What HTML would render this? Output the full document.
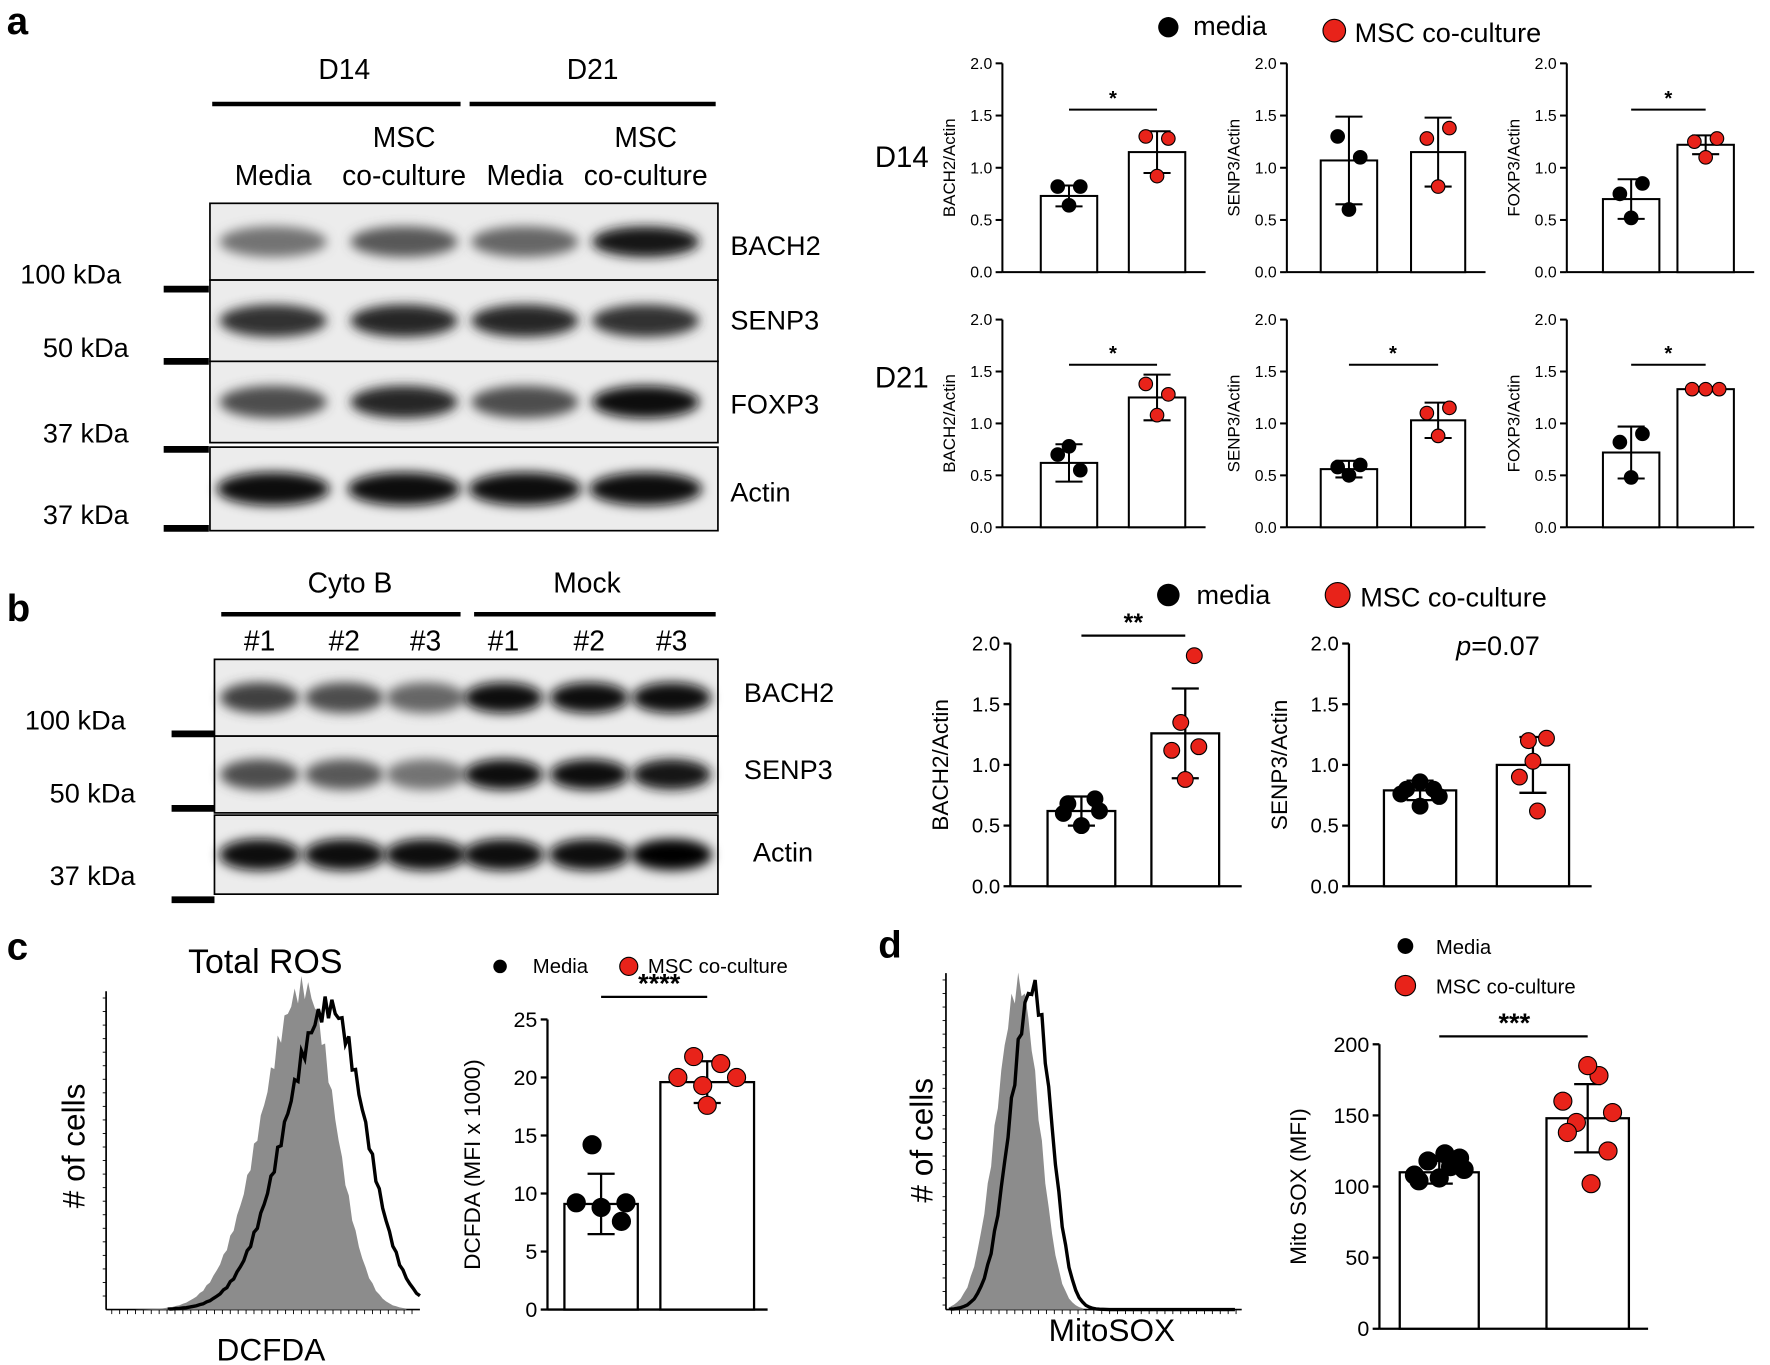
<!DOCTYPE html>
<html><head><meta charset="utf-8"><style>
html,body{margin:0;padding:0;background:#fff;}
svg{display:block;font-family:"Liberation Sans",Arial,sans-serif;}
</style></head><body>
<svg id="s" width="1770" height="1365" viewBox="0 0 1568 1209" xmlns="http://www.w3.org/2000/svg">
<defs>
<filter id="bl" x="-20%" y="-50%" width="140%" height="200%"><feGaussianBlur stdDeviation="5"/></filter>
</defs>
<g font-weight="bold" font-size="34">
<text x="6" y="30">a</text><text x="6" y="550">b</text><text x="6" y="850">c</text><text x="778" y="848">d</text>
</g>
<g font-size="25" text-anchor="middle">
<text x="305" y="70">D14</text><text x="525" y="70">D21</text>
<text x="242" y="164">Media</text><text x="358" y="130">MSC</text><text x="358" y="164">co-culture</text>
<text x="465" y="164">Media</text><text x="572" y="130">MSC</text><text x="572" y="164">co-culture</text>
<text x="310" y="525">Cyto B</text><text x="520" y="525">Mock</text>
<text x="230" y="576">#1</text><text x="305" y="576">#2</text><text x="377" y="576">#3</text>
<text x="446" y="576">#1</text><text x="522" y="576">#2</text><text x="595" y="576">#3</text>
</g>
<g stroke="#000" stroke-width="4">
<line x1="188" y1="92" x2="408" y2="92"/><line x1="416" y1="92" x2="634" y2="92"/>
<line x1="196" y1="544" x2="408" y2="544"/><line x1="420" y1="544" x2="634" y2="544"/>
</g>
<g id="blots"></g>
<g font-size="24">
<text x="647" y="226">BACH2</text><text x="647" y="292">SENP3</text><text x="647" y="366">FOXP3</text><text x="647" y="444">Actin</text>
<text x="659" y="622">BACH2</text><text x="659" y="690">SENP3</text><text x="667" y="763">Actin</text>
<text x="18" y="251">100 kDa</text><text x="38" y="316">50 kDa</text><text x="38" y="392">37 kDa</text><text x="38" y="464">37 kDa</text>
<text x="22" y="646">100 kDa</text><text x="44" y="711">50 kDa</text><text x="44" y="784">37 kDa</text>
</g>
<g stroke="#000" stroke-width="6">
<line x1="145" y1="256" x2="185" y2="256"/><line x1="145" y1="320" x2="185" y2="320"/><line x1="145" y1="398" x2="185" y2="398"/><line x1="145" y1="468" x2="185" y2="468"/>
<line x1="152" y1="650" x2="190" y2="650"/><line x1="152" y1="716" x2="190" y2="716"/><line x1="152" y1="797" x2="190" y2="797"/>
</g>
<g font-size="24">
<circle cx="1035" cy="24" r="9"/><text x="1057" y="31">media</text>
<circle cx="1182" cy="27" r="10" fill="#e8231a" stroke="#000"/><text x="1200" y="37">MSC co-culture</text>
<text x="775" y="148" font-size="26">D14</text><text x="775" y="343" font-size="26">D21</text>
<circle cx="1035" cy="527" r="10"/><text x="1060" y="535">media</text>
<circle cx="1185" cy="527" r="11" fill="#e8231a" stroke="#000"/><text x="1205" y="537">MSC co-culture</text>
<text x="1290" y="580"><tspan font-style="italic">p</tspan>=0.07</text>
</g>
<g font-size="18">
<circle cx="443" cy="856" r="6"/><text x="472" y="862">Media</text>
<circle cx="557" cy="856" r="8" fill="#e8231a" stroke="#000"/><text x="574" y="862">MSC co-culture</text>
<circle cx="1245" cy="838" r="7"/><text x="1272" y="845">Media</text>
<circle cx="1245" cy="873" r="9" fill="#e8231a" stroke="#000"/><text x="1272" y="880">MSC co-culture</text>
</g>
<text x="235" y="862" font-size="30" text-anchor="middle">Total ROS</text>
<text x="240" y="1205" font-size="28" text-anchor="middle">DCFDA</text>
<text x="985" y="1188" font-size="28" text-anchor="middle">MitoSOX</text>
<text transform="translate(75,1015) rotate(-90)" font-size="28" text-anchor="middle"># of cells</text>
<text transform="translate(826,1010) rotate(-90)" font-size="28" text-anchor="middle"># of cells</text>
<g id="charts"></g>
</svg>
<script>
var NS="http://www.w3.org/2000/svg";
function el(p,t,a,txt){var e=document.createElementNS(NS,t);for(var k in a)e.setAttribute(k,a[k]);if(txt!==undefined)e.textContent=txt;document.getElementById(p).appendChild(e);return e;}
function blotRow(x1,x2,y1,y2,lanes,ints,w){
 el("blots","rect",{x:x1,y:y1,width:x2-x1,height:y2-y1,fill:"#ececec",stroke:"#000","stroke-width":1.5});
 var cy=(y1+y2)/2;
 for(var i=0;i<lanes.length;i++){var g=Math.round(255*(1-ints[i]));
  el("blots","ellipse",{cx:lanes[i],cy:cy,rx:w/2,ry:(y2-y1)*0.2,fill:"rgb("+g+","+g+","+g+")",filter:"url(#bl)"});}
}
var LA=[242,358,465,572];
blotRow(186,636,180,248,LA,[0.55,0.65,0.6,0.9],95);
blotRow(186,636,248,320,LA,[0.8,0.85,0.85,0.8],95);
blotRow(186,636,320,392,LA,[0.7,0.85,0.7,0.95],95);
blotRow(186,636,396,470,LA,[0.95,0.95,0.95,0.95],100);
var LB=[230,305,377,446,522,595];
blotRow(190,636,584,652,LB,[0.75,0.7,0.6,0.95,0.95,0.95],70);
blotRow(190,636,652,720,LB,[0.7,0.65,0.55,0.95,0.95,0.9],70);
blotRow(190,636,722,792,LB,[0.95,0.95,0.95,0.95,0.95,0.98],72);
function chart(o){
 var sc=(o.y0-o.yt)/o.max;
 var Y=function(v){return o.y0-v*sc;};
 el("charts","line",{x1:o.ax,y1:o.yt,x2:o.ax,y2:o.y0,stroke:"#000","stroke-width":o.sw});
 el("charts","line",{x1:o.ax,y1:o.y0,x2:o.xe,y2:o.y0,stroke:"#000","stroke-width":o.sw});
 for(var i=0;i<o.ticks.length;i++){var v=o.ticks[i];
  el("charts","line",{x1:o.ax-6,y1:Y(v),x2:o.ax,y2:Y(v),stroke:"#000","stroke-width":o.sw});
  el("charts","text",{x:o.ax-9,y:Y(v)+o.fs*0.35,"font-size":o.fs,"text-anchor":"end"},o.lab[i]);}
 el("charts","text",{transform:"translate("+(o.ax-o.ldx)+","+((o.y0+o.yt)/2)+") rotate(-90)","font-size":o.lfs,"text-anchor":"middle"},o.ylabel);
 for(var b=0;b<2;b++){var x=o.bars[b][0],w=o.bars[b][1]-x,v=o.vals[b],sd=o.sd[b];
  el("charts","rect",{x:x,y:Y(v),width:w,height:o.y0-Y(v),fill:"#fff",stroke:"#000","stroke-width":o.sw});
  var cx=x+w/2;
  el("charts","line",{x1:cx,y1:Y(v-sd),x2:cx,y2:Y(v+sd),stroke:"#000","stroke-width":o.sw});
  el("charts","line",{x1:cx-12,y1:Y(v+sd),x2:cx+12,y2:Y(v+sd),stroke:"#000","stroke-width":o.sw});
  el("charts","line",{x1:cx-12,y1:Y(v-sd),x2:cx+12,y2:Y(v-sd),stroke:"#000","stroke-width":o.sw});
  var pts=o.pts[b];
  for(var k=0;k<pts.length;k++){
   el("charts","circle",{cx:cx+pts[k][0],cy:Y(pts[k][1]),r:o.r,fill:b?"#e8231a":"#000",stroke:"#000","stroke-width":1});}
 }
 if(o.star){var sy=o.sy;
  el("charts","line",{x1:o.bars[0][0]+(o.bars[0][1]-o.bars[0][0])/2,y1:sy,x2:o.bars[1][0]+(o.bars[1][1]-o.bars[1][0])/2,y2:sy,stroke:"#000","stroke-width":o.sw});
  var mx=(o.bars[0][0]+o.bars[1][1])/2;
  el("charts","text",{x:mx,y:sy-4,"font-size":o.sfs,"text-anchor":"middle","font-weight":"bold"},o.star);}
}
var t2=[0,0.5,1,1.5,2],l2=["0.0","0.5","1.0","1.5","2.0"];
function small(ax,y0,yt,bars,vals,sd,pts,yl,star){
 chart({ax:ax,y0:y0,yt:yt,xe:bars[1][1]+18,max:2,ticks:t2,lab:l2,fs:14,lfs:15,ldx:42,sw:1.8,ylabel:yl,bars:bars,vals:vals,sd:sd,pts:pts,r:6,star:star,sy:y0-144,sfs:18});
}
small(888,241,56,[[922,972],[1000,1050]],[0.73,1.15],[0.1,0.2],[[[-10,0.82],[10,0.82],[0,0.64]],[[-10,1.3],[10,1.28],[0,0.92]]],"BACH2/Actin","*");
small(1140,241,56,[[1170,1220],[1250,1298]],[1.07,1.15],[0.42,0.33],[[[-10,1.3],[10,1.1],[0,0.6]],[[-10,1.28],[10,1.38],[0,0.82]]],"SENP3/Actin","");
small(1388,241,56,[[1420,1470],[1486,1536]],[0.7,1.22],[0.19,0.09],[[[-10,0.75],[10,0.85],[0,0.52]],[[-10,1.25],[10,1.28],[0,1.1]]],"FOXP3/Actin","*");
small(888,467,283,[[922,972],[1000,1050]],[0.62,1.25],[0.18,0.22],[[[-10,0.7],[10,0.55],[0,0.78]],[[-10,1.38],[10,1.28],[0,1.08]]],"BACH2/Actin","*");
small(1140,467,283,[[1170,1220],[1250,1298]],[0.56,1.03],[0.08,0.17],[[[-10,0.58],[10,0.6],[0,0.5]],[[-10,1.1],[10,1.15],[0,0.88]]],"SENP3/Actin","*");
small(1388,467,283,[[1420,1470],[1486,1536]],[0.72,1.33],[0.25,0.02],[[[-10,0.82],[10,0.9],[0,0.48]],[[-12,1.33],[12,1.33],[0,1.33]]],"FOXP3/Actin","*");
chart({ax:895,y0:785,yt:570,xe:1100,max:2,ticks:t2,lab:l2,fs:18,lfs:20,ldx:55,sw:2,ylabel:"BACH2/Actin",bars:[[928,988],[1020,1080]],vals:[0.62,1.26],sd:[0.12,0.37],pts:[[[-12,0.68],[12,0.72],[0,0.5],[-16,0.6],[16,0.62]],[[-12,1.12],[12,1.15],[0,0.88],[-4,1.35],[8,1.9]]],r:7,star:"**",sy:563,sfs:22});
chart({ax:1195,y0:785,yt:570,xe:1410,max:2,ticks:t2,lab:l2,fs:18,lfs:20,ldx:55,sw:2,ylabel:"SENP3/Actin",bars:[[1226,1290],[1326,1390]],vals:[0.79,1.0],sd:[0.08,0.23],pts:[[[-12,0.8],[12,0.8],[0,0.86],[-17,0.76],[17,0.74],[0,0.66]],[[-12,0.9],[12,1.22],[0,1.03],[-4,1.2],[4,0.62]]],r:7,star:"",sfs:22});
chart({ax:485,y0:1160,yt:903,xe:680,max:25,ticks:[0,5,10,15,20,25],lab:["0","5","10","15","20","25"],fs:19,lfs:20,ldx:60,sw:2,ylabel:"DCFDA (MFI x 1000)",bars:[[500,565],[585,668]],vals:[9.1,19.6],sd:[2.6,1.8],pts:[[[-22,9.2],[22,9.2],[0,8.8],[-8,14.2],[18,7.6]],[[-26,20],[26,20],[-12,21.8],[12,21.2],[0,17.6],[-4,19.3]]],r:8,star:"****",sy:883,sfs:24});
chart({ax:1222,y0:1177,yt:925,xe:1460,max:200,ticks:[0,50,100,150,200],lab:["0","50","100","150","200"],fs:19,lfs:20,ldx:65,sw:2,ylabel:"Mito SOX (MFI)",bars:[[1240,1310],[1370,1443]],vals:[110,148],sd:[8,24],pts:[[[-22,108],[22,112],[-10,118],[10,114],[0,106],[-18,104],[18,120],[5,123]],[[-22,160],[22,152],[-10,145],[10,178],[0,185],[-18,138],[18,125],[3,102]]],r:8,star:"***",sy:918,sfs:24});
function axisH(ax,yt,y0,xe){
 el("charts","line",{x1:ax,y1:yt,x2:ax,y2:y0,stroke:"#000","stroke-width":1.5});
 el("charts","line",{x1:ax,y1:y0,x2:xe,y2:y0,stroke:"#000","stroke-width":1.5});
 for(var y=yt+6;y<y0;y+=12)el("charts","line",{x1:ax-3,y1:y,x2:ax,y2:y,stroke:"#000","stroke-width":0.8});
 for(var x=ax+5;x<xe;x+=7)el("charts","line",{x1:x,y1:y0,x2:x,y2:y0+4,stroke:"#000","stroke-width":0.8});
}
function gauss(x0,x1,mu,s,h,y0,sk){var d="M"+x0+","+y0;for(var x=x0;x<=x1;x+=3){var ss=x<mu?s:s*sk;var v=h*Math.exp(-Math.pow(x-mu,2)/(2*ss*ss));v*=1+0.04*Math.sin(x*0.9);d+=" L"+x+","+(y0-v).toFixed(1);}return d;}
axisH(94,878,1160,372);
el("charts","path",{d:gauss(120,360,270,38,285,1160,0.7)+" L360,1160 Z",fill:"#8c8c8c"});
el("charts","path",{d:gauss(150,372,292,40,268,1160,0.8),fill:"none",stroke:"#000","stroke-width":3});
axisH(838,862,1160,1100);
el("charts","path",{d:gauss(842,960,903,20,288,1160,0.85)+" L960,1160 Z",fill:"#8c8c8c"});
el("charts","path",{d:gauss(842,1095,915,20,285,1160,0.8),fill:"none",stroke:"#000","stroke-width":3});
</script>
</body></html>
